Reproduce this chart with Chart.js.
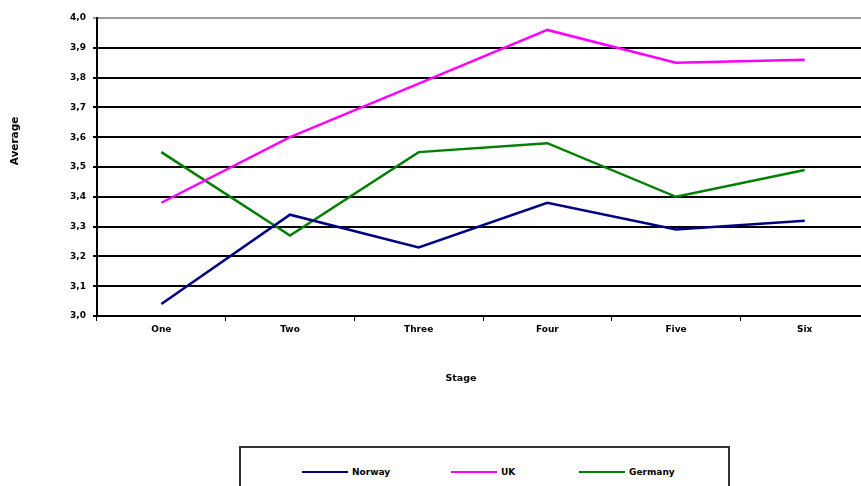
<!DOCTYPE html>
<html>
<head>
<meta charset="utf-8">
<script src="https://cdn.jsdelivr.net/npm/chart.js@4/dist/chart.umd.min.js"></script>
<style>
    html, body { margin: 0; padding: 0; background: #fff; overflow: hidden; }
    #wrap { position: relative; width: 880px; height: 486px; }
    #legend {
        position: absolute; left: 239px; top: 446px; width: 491px; height: 60px;
        border: 2px solid #333; background: #fff; box-sizing: border-box;
    }
    .lg-item { position: absolute; top: 19px; display: flex; align-items: center;
        font: bold 9px "DejaVu Sans", sans-serif; color: #000; }
    .lg-line { width: 46px; height: 2px; margin-right: 4px; }
</style>
</head>
<body>
<div id="wrap">
    <canvas id="stageChart" width="880" height="486"></canvas>
    <div id="legend"></div>
</div>
<script>
// Averages per stage
const stages = ['One', 'Two', 'Three', 'Four', 'Five', 'Six'];
const norway  = [3.04, 3.34, 3.23, 3.38, 3.29, 3.32];
const uk      = [3.38, 3.60, 3.78, 3.96, 3.85, 3.86];
const germany = [3.55, 3.27, 3.55, 3.58, 3.40, 3.49];
const yTicks  = [3.0, 3.1, 3.2, 3.3, 3.4, 3.5, 3.6, 3.7, 3.8, 3.9, 4.0];

const tickFont = { family: '"DejaVu Sans", sans-serif', size: 9, weight: 'bold' };

// axis titles sit where the old sheet had them, not centred
const axisTitles = {
    id: 'axisTitles',
    afterDraw(chart) {
        const { ctx, chartArea } = chart;
        ctx.save();
        ctx.fillStyle = '#000';
        ctx.textAlign = 'center';
        ctx.textBaseline = 'middle';
        ctx.font = 'bold 9.5px "DejaVu Sans", sans-serif';
        ctx.fillText('Stage', chartArea.left + 364, chartArea.bottom + 63);
        ctx.font = 'bold 10.5px "DejaVu Sans", sans-serif';
        ctx.translate(15, chartArea.top + 123);
        ctx.rotate(-Math.PI / 2);
        ctx.fillText('Average', 0, 0);
        ctx.restore();
    }
};

const chart = new Chart(document.getElementById('stageChart'), {
    type: 'line',
    data: {
        labels: stages,
        datasets: [
            { label: 'Norway', data: norway, borderColor: '#000080' },
            { label: 'UK', data: uk, borderColor: '#FF00FF' },
            { label: 'Germany', data: germany, borderColor: '#008000' }
        ]
    },
    options: {
        responsive: false,
        animation: false,
        layout: { padding: { top: 18, right: 11, left: 0, bottom: 0 } },
        elements: {
            line: { borderWidth: 2.5, tension: 0 },
            point: { radius: 0 }
        },
        plugins: { legend: { display: false }, tooltip: { enabled: false } },
        scales: {
            x: {
                offset: true,
                afterFit: s => { s.height = 170; },
                grid: { offset: true, drawOnChartArea: false, drawTicks: true, tickLength: 5, color: '#000', lineWidth: 1 },
                border: { display: true, color: '#000', width: 2 },
                ticks: { color: '#000', font: tickFont, padding: 3, maxRotation: 0 }
            },
            y: {
                min: 3, max: 4,
                afterFit: s => { s.width = 97; },
                afterBuildTicks: s => { s.ticks = yTicks.map(v => ({ value: v })); },
                grid: {
                    color: ctx => ctx.tick && ctx.tick.value === 4 ? '#9a9a9a' : '#000',
                    lineWidth: 2, tickLength: 4
                },
                border: { display: true, color: '#000', width: 2 },
                ticks: {
                    color: '#000', font: tickFont, padding: 7,
                    callback: v => v.toFixed(1).replace('.', ',')
                }
            }
        }
    },
    plugins: [axisTitles]
});

// legend box built from the datasets
const legendPos = [61, 210, 338];
document.getElementById('legend').innerHTML = chart.data.datasets.map((ds, i) => `
    <div class="lg-item" style="left:${legendPos[i]}px">
        <span class="lg-line" style="background:${ds.borderColor}"></span>${ds.label}
    </div>
`).join('');
</script>
</body>
</html>
